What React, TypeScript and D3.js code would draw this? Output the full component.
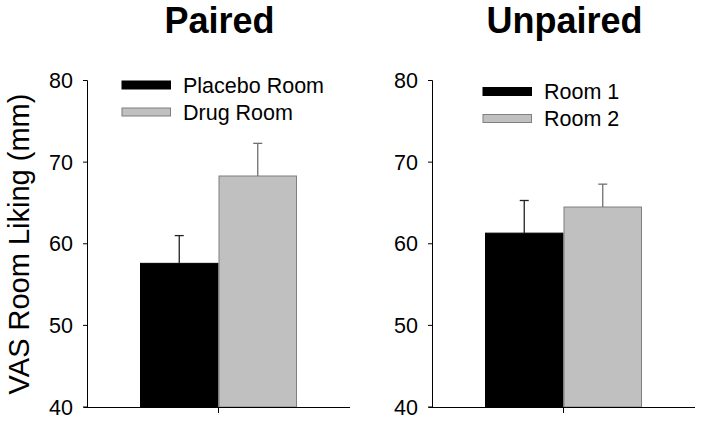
import React from "react";
import * as d3 from "d3";

const yTicks = [40, 50, 60, 70, 80];
const pairedCats = ["Placebo Room", "Drug Room"];
const pairedMeans = [57.6, 68.3];
const pairedErr = [3.4, 4.0];
const unpairedCats = ["Room 1", "Room 2"];
const unpairedMeans = [61.3, 64.5];
const unpairedErr = [4.0, 2.8];
const titles = ["Paired", "Unpaired"];
const yLabel = "VAS Room Liking (mm)";

const FONT = "'Liberation Sans', Arial, Helvetica, sans-serif";
const fills = ["#000000", "#c0c0c0"];
const strokes = ["#000000", "#7f7f7f"];
const errColors = ["#222222", "#6f6f6f"];

const y = d3.scaleLinear().domain([40, 80]).range([407, 80.5]);

type PanelProps = {
  axisX: number;
  xEnd: number;
  center: number;
  title: string;
  cats: string[];
  means: number[];
  errs: number[];
  legendX: number;
  legendY: number;
  legendGap: number;
};

function Panel(p: PanelProps) {
  const x = d3
    .scaleBand<string>()
    .domain(p.cats)
    .range([p.center - 78.5, p.center + 78.5])
    .padding(0);
  const bw = x.bandwidth();
  return (
    <g>
      <text
        x={p.center + 1}
        y={33}
        textAnchor="middle"
        fontFamily={FONT}
        fontWeight="bold"
        fontSize={36}
      >
        {p.title}
      </text>
      {p.cats.map((c, i) => (
        <rect
          key={c}
          x={x(c)! + 0.5}
          y={y(p.means[i])}
          width={bw - 1}
          height={y(40) - y(p.means[i])}
          fill={fills[i]}
          stroke={strokes[i]}
          strokeWidth={1}
        />
      ))}
      {p.cats.map((c, i) => {
        const cx = x(c)! + bw / 2;
        const top = y(p.means[i] + p.errs[i]);
        return (
          <g key={c + "e"} stroke={errColors[i]} strokeWidth={1.3}>
            <line x1={cx} x2={cx} y1={y(p.means[i])} y2={top} />
            <line x1={cx - 4.5} x2={cx + 4.5} y1={top} y2={top} />
          </g>
        );
      })}
      {/* y axis */}
      <line x1={p.axisX} x2={p.axisX} y1={y(80)} y2={y(40)} stroke="#000" strokeWidth={1} />
      {yTicks.map((t) => (
        <g key={t}>
          <line x1={p.axisX - 4.5} x2={p.axisX} y1={y(t)} y2={y(t)} stroke="#000" strokeWidth={1} />
          <text
            x={p.axisX - 14.5}
            y={y(t)}
            dy="0.36em"
            textAnchor="end"
            fontFamily={FONT}
            fontSize={21.5}
          >
            {t}
          </text>
        </g>
      ))}
      {/* x axis */}
      <line x1={p.axisX - 4} x2={p.xEnd} y1={y(40) + 0.5} y2={y(40) + 0.5} stroke="#000" strokeWidth={1} />
      <line x1={p.center} x2={p.center} y1={y(40)} y2={y(40) + 6} stroke="#000" strokeWidth={1} />
      {/* legend */}
      {p.cats.map((c, i) => (
        <g key={c + "l"}>
          <rect
            x={p.legendX}
            y={p.legendY + i * p.legendGap}
            width={48.5}
            height={8}
            fill={fills[i]}
            stroke={strokes[i]}
            strokeWidth={1}
          />
          <text
            x={p.legendX + 61}
            y={p.legendY + i * p.legendGap + 11.5}
            fontFamily={FONT}
            fontSize={21.5}
          >
            {c}
          </text>
        </g>
      ))}
    </g>
  );
}

export default function App() {
  return (
    <svg
      width={701}
      height={423}
      style={{ position: "absolute", left: 0, top: 0, background: "#fff" }}
    >
      <rect width={701} height={423} fill="#fff" />
      <text
        transform={`translate(29,244) rotate(-90)`}
        textAnchor="middle"
        fontFamily={FONT}
        fontSize={29}
      >
        {yLabel}
      </text>
      <Panel
        axisX={87.5}
        xEnd={350}
        center={218.5}
        title={titles[0]}
        cats={pairedCats}
        means={pairedMeans}
        errs={pairedErr}
        legendX={122}
        legendY={81}
        legendGap={27}
      />
      <Panel
        axisX={432.5}
        xEnd={695}
        center={563.5}
        title={titles[1]}
        cats={unpairedCats}
        means={unpairedMeans}
        errs={unpairedErr}
        legendX={483}
        legendY={87.5}
        legendGap={27}
      />
    </svg>
  );
}
